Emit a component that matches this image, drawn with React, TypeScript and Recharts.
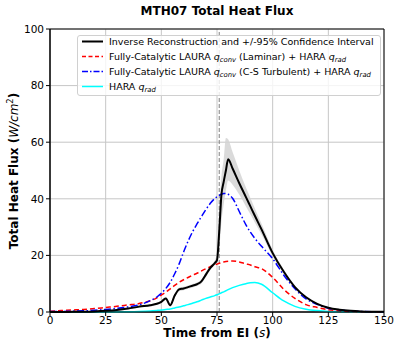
import React from 'react'
import {
  Area,
  CartesianGrid,
  ComposedChart,
  Line,
  ReferenceArea,
  ReferenceLine,
  XAxis,
  YAxis,
} from 'recharts'

// time from entry interface (s)
const times = [
  0, 5, 10, 15, 20, 25, 30, 35, 40, 45, 48, 50, 52, 54, 56, 58, 60, 62, 64, 66, 68, 70, 72, 74, 75,
  76, 77, 78, 79, 80, 82, 85, 88, 90, 92, 95, 100, 105, 110, 115, 120, 125, 130, 135, 140, 145, 150,
]

const inverse = [
  0, 0, 0.05, 0.1, 0.2, 0.4, 0.7, 1.2, 1.9, 2.4, 2.9, 3.6, 4.8, 2.4, 5.8, 8.0, 8.3, 8.8, 9.3, 9.8,
  10.8, 13.2, 15.6, 17.3, 18.3, 28.5, 41.5, 46, 50, 54, 50.7, 45.5, 40.6, 37.3, 34, 29.2, 20.8, 14.2,
  8.8, 5.2, 2.9, 1.5, 0.8, 0.4, 0.2, 0.1, 0.05,
]

const bandLow = [
  0, 0, 0, 0.05, 0.1, 0.25, 0.45, 0.9, 1.5, 2.0, 2.5, 3.1, 4.2, 1.8, 5.1, 7.3, 7.7, 8.2, 8.7, 9.2,
  10.1, 12.4, 14.8, 16.6, 17.3, 22, 32, 38, 43, 46.5, 45, 41.5, 37.3, 34.5, 31.6, 27.4, 19.7, 13.5,
  8.4, 4.9, 2.7, 1.35, 0.7, 0.33, 0.15, 0.07, 0.03,
]

const bandHigh = [
  0.05, 0.05, 0.1, 0.15, 0.3, 0.55, 0.95, 1.5, 2.3, 2.8, 3.3, 4.1, 5.4, 3.0, 6.5, 8.7, 8.9, 9.4, 9.9,
  10.4, 11.5, 14.0, 16.4, 18.2, 21, 36, 48, 54, 61.5, 61, 56.5, 50, 44, 40.3, 36.6, 31.2, 22, 15, 9.3,
  5.5, 3.1, 1.65, 0.9, 0.47, 0.25, 0.13, 0.07,
]

const laminar = [
  0.3, 0.5, 0.7, 0.9, 1.2, 1.6, 2.0, 2.5, 3.0, 4.0, 5.0, 6.0, 7.0, 8.2, 9.4, 10.5, 11.4, 12.2, 13.0,
  13.7, 14.5, 15.3, 16.0, 16.6, 16.9, 17.2, 17.5, 17.7, 17.85, 17.95, 18.0, 17.7, 17.0, 16.6, 16.0,
  15.3, 12.2, 8.0, 4.8, 2.6, 1.6, 0.8, 0.4, 0.2, 0.1, 0.05, 0.03,
]

const turbulent = [
  0.15, 0.2, 0.3, 0.4, 0.6, 0.9, 1.3, 1.8, 2.5, 4.0, 5.3, 6.6, 8.3, 10.5, 13.5, 17, 21.2, 25.0, 28.3,
  31.1, 33.7, 36.2, 38.4, 40.1, 40.7, 41.2, 41.6, 41.9, 41.9, 41.6, 40.2, 35.5, 30.8, 28.2, 26, 23.2,
  18.8, 13, 8.2, 4.6, 2.7, 1.3, 0.7, 0.35, 0.2, 0.1, 0.05,
]

const hara = [
  0, 0, 0, 0, 0, 0, 0, 0.05, 0.15, 0.35, 0.55, 0.7, 0.9, 1.1, 1.45, 1.8, 2.2, 2.6, 3.1, 3.6, 4.2, 4.8,
  5.3, 5.8, 6.1, 6.4, 6.8, 7.1, 7.5, 7.9, 8.6, 9.4, 10.0, 10.3, 10.4, 9.8, 6.8, 3.9, 2.0, 1.0, 0.5, 0.2,
  0.1, 0.05, 0, 0, 0,
]

const xTicks = [0, 25, 50, 75, 100, 125, 150]
const yTicks = [0, 20, 40, 60, 80, 100]
const eventTime = 76

const FONT = '"DejaVu Sans", sans-serif'

const data = times.map((t, i) => ({
  t,
  inverse: inverse[i],
  band: [bandLow[i], bandHigh[i]],
  laminar: laminar[i],
  turbulent: turbulent[i],
  hara: hara[i],
}))

function Sub({ children }: { children: React.ReactNode }) {
  return (
    <span style={{ fontStyle: 'italic', fontSize: '0.72em', position: 'relative', top: '0.3em' }}>
      {children}
    </span>
  )
}

const legendRows = [
  { color: '#000000', width: 2, dash: '', label: <>Inverse Reconstruction and +/-95% Confidence Interval</> },
  {
    color: '#ff0000',
    width: 1.5,
    dash: '4 2.5',
    label: (
      <>
        Fully-Catalytic LAURA <i>q</i>
        <Sub>conv</Sub> (Laminar) + HARA <i>q</i>
        <Sub>rad</Sub>
      </>
    ),
  },
  {
    color: '#0000ff',
    width: 1.5,
    dash: '6 2 1.5 2',
    label: (
      <>
        Fully-Catalytic LAURA <i>q</i>
        <Sub>conv</Sub> (C-S Turbulent) + HARA <i>q</i>
        <Sub>rad</Sub>
      </>
    ),
  },
  {
    color: '#00ffff',
    width: 1.5,
    dash: '',
    label: (
      <>
        HARA <i>q</i>
        <Sub>rad</Sub>
      </>
    ),
  },
]

function ChartLegend() {
  return (
    <div
      style={{
        position: 'absolute',
        left: 77,
        top: 35,
        width: 302,
        height: 59,
        background: 'rgba(255,255,255,0.8)',
        border: '1px solid #d0d0d0',
        borderRadius: 3,
        fontFamily: FONT,
        fontSize: 9.5,
        color: '#000',
        boxSizing: 'content-box',
      }}
    >
      {legendRows.map((r, i) => (
        <div
          key={i}
          style={{
            position: 'absolute',
            left: 0,
            top: -2 + i * 15,
            display: 'flex',
            alignItems: 'center',
            height: 15,
            whiteSpace: 'nowrap',
          }}
        >
          <svg width={31} height={15} style={{ flex: 'none' }}>
            <line
              x1={4}
              x2={25}
              y1={7.5}
              y2={7.5}
              stroke={r.color}
              strokeWidth={r.width}
              strokeDasharray={r.dash || undefined}
            />
          </svg>
          <span>{r.label}</span>
        </div>
      ))}
    </div>
  )
}

export default function App() {
  return (
    <div style={{ position: 'absolute', left: 0, top: 0, width: 394, height: 348, background: '#fff' }}>
      <div
        style={{
          position: 'absolute',
          left: 117,
          width: 200,
          top: 4,
          textAlign: 'center',
          fontFamily: FONT,
          fontWeight: 'bold',
          fontSize: 12,
          whiteSpace: 'nowrap',
        }}
      >
        MTH07 Total Heat Flux
      </div>
      <ComposedChart
        width={394}
        height={348}
        data={data}
        margin={{ top: 29, right: 10, bottom: 6, left: 18 }}
      >
        <CartesianGrid stroke="#c6c6c6" strokeWidth={1} />
        <XAxis
          dataKey="t"
          type="number"
          domain={[0, 150]}
          ticks={xTicks}
          height={30}
          interval={0}
          stroke="#000"
          tickSize={4}
          tickMargin={1}
          tick={{ fill: '#000', fontSize: 10.5, fontFamily: FONT }}
          label={{
            content: () => (
              <text
                x={217}
                y={337}
                textAnchor="middle"
                fontFamily={FONT}
                fontSize={12}
                fontWeight="bold"
                fill="#000"
              >
                Time from EI (<tspan fontStyle="italic" fontWeight="normal">s</tspan>)
              </text>
            ),
          }}
        />
        <YAxis
          type="number"
          domain={[0, 100]}
          ticks={yTicks}
          width={32}
          interval={0}
          stroke="#000"
          tickSize={4}
          tickMargin={2}
          tick={{ fill: '#000', fontSize: 10.5, fontFamily: FONT }}
          label={{
            content: () => (
              <text
                transform="translate(18,171) rotate(-90)"
                textAnchor="middle"
                fontFamily={FONT}
                fontSize={12}
                fontWeight="bold"
                fill="#000"
              >
                Total Heat Flux (
                <tspan fontStyle="italic" fontWeight="normal">W/cm</tspan>
                <tspan fontWeight="normal" fontSize={8.5} dy={-5}>2</tspan>
                <tspan dy={5}>)</tspan>
              </text>
            ),
          }}
        />
        <ReferenceLine x={eventTime} stroke="#808080" strokeDasharray="4 2" strokeWidth={1} />
        <Area
          dataKey="band"
          type="monotone"
          stroke="none"
          fill="#d3d3d3"
          fillOpacity={0.85}
          isAnimationActive={false}
          activeDot={false}
        />
        <Line dataKey="hara" type="monotone" stroke="#00ffff" strokeWidth={1.5} dot={false} activeDot={false} isAnimationActive={false} />
        <Line dataKey="laminar" type="monotone" stroke="#ff0000" strokeWidth={1.5} strokeDasharray="5 3" dot={false} activeDot={false} isAnimationActive={false} />
        <Line dataKey="turbulent" type="monotone" stroke="#0000ff" strokeWidth={1.5} strokeDasharray="7 2.5 1.5 2.5" dot={false} activeDot={false} isAnimationActive={false} />
        <Line dataKey="inverse" type="monotone" stroke="#000000" strokeWidth={2} dot={false} activeDot={false} isAnimationActive={false} />
        <ReferenceArea x1={0} x2={150} y1={0} y2={100} fill="none" stroke="#000" strokeWidth={1} />
      </ComposedChart>
      <ChartLegend />
    </div>
  )
}
